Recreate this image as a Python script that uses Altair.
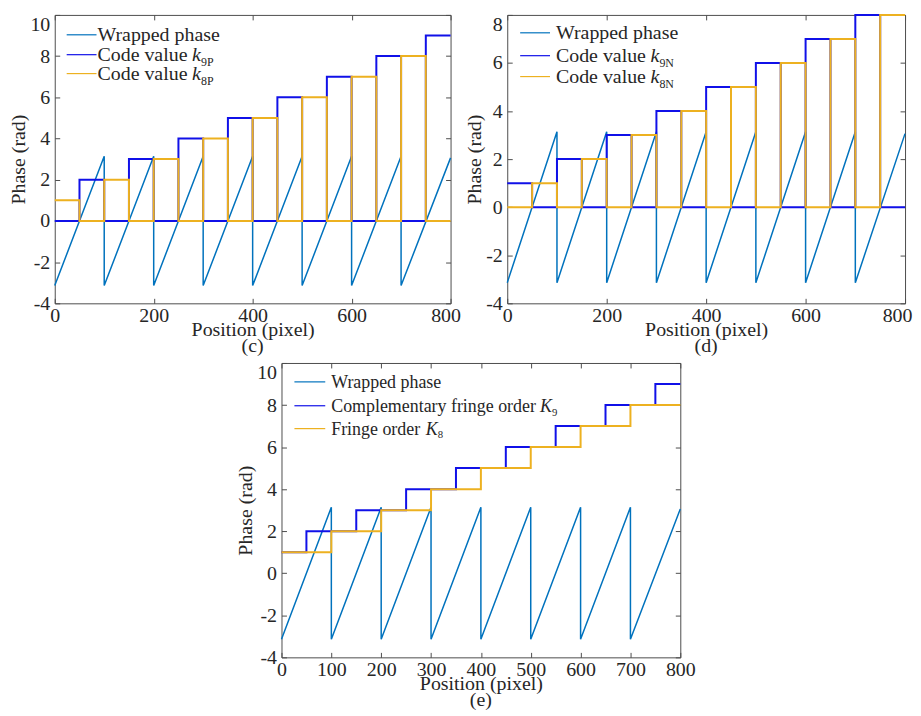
import altair as alt
import pandas as pd

FONT = "Liberation Serif"
TXT = "#262626"
FRAME = "#4d4d4d"
C_WRAP = "#0072BD"
C_BLUE = "#1010E8"
C_ORANGE = "#EDB120"
TICK = 5

# ---------------- data ----------------
# wrapped phase (sawtooth vertices)
wrap_x = [0, 100, 100, 200, 200, 300, 300, 400, 400, 500, 500, 600, 600, 700, 700, 800]
wrap_y = [-3.14, 3.14, -3.14, 3.14, -3.14, 3.14, -3.14, 3.14, -3.14, 3.14,
          -3.14, 3.14, -3.14, 3.14, -3.14, 3.06]

# step breakpoints (value holds from this x to the next)
seg_x = [0, 50, 100, 150, 200, 250, 300, 350, 400, 450, 500, 550, 600, 650, 700, 750, 800]

# panel (c)
k9P = [0, 2, 0, 3, 0, 4, 0, 5, 0, 6, 0, 7, 0, 8, 0, 9, 9]
k8P = [1, 0, 2, 0, 3, 0, 4, 0, 5, 0, 6, 0, 7, 0, 8, 0, 0]
# panel (d)
k9N = [1, 0, 2, 0, 3, 0, 4, 0, 5, 0, 6, 0, 7, 0, 8, 0, 0]
k8N = [0, 1, 0, 2, 0, 3, 0, 4, 0, 5, 0, 6, 0, 7, 0, 8, 8]
# panel (e)
K9 = [1, 2, 2, 3, 3, 4, 4, 5, 5, 6, 6, 7, 7, 8, 8, 9, 9]
K8 = [1, 1, 2, 2, 3, 3, 4, 4, 5, 5, 6, 6, 7, 7, 8, 8, 8]

ticks_c_y = [-4, -2, 0, 2, 4, 6, 8, 10]
ticks_d_y = [-4, -2, 0, 2, 4, 6, 8]
ticks_cd_x = [0, 200, 400, 600, 800]
ticks_e_x = [0, 100, 200, 300, 400, 500, 600, 700, 800]


def legend_layers(rows, fs, lx0, lx1, tx):
    layers = []
    for (ly, color, main, ital, sub, idx, sdx) in rows:
        layers.append(alt.Chart().mark_rule(color=color, strokeWidth=1.2).encode(
            x=alt.value(lx0), x2=alt.value(lx1), y=alt.value(ly)))
        base_y = ly + fs * 0.33
        layers.append(alt.Chart().mark_text(align="left", baseline="alphabetic", font=FONT,
                                            fontSize=fs, color=TXT, text=main).encode(
            x=alt.value(tx), y=alt.value(base_y)))
        if ital:
            layers.append(alt.Chart().mark_text(align="left", baseline="alphabetic", font=FONT,
                                                fontSize=fs, fontStyle="italic", color=TXT,
                                                text=ital).encode(
                x=alt.value(tx + idx), y=alt.value(base_y)))
            layers.append(alt.Chart().mark_text(align="left", baseline="alphabetic", font=FONT,
                                                fontSize=fs * 0.6, color=TXT, text=sub).encode(
                x=alt.value(tx + sdx), y=alt.value(base_y + fs * 0.22)))
    return layers


def panel(blue, orange, yticks, xticks, ymax, w, h, caption, x800_off, legend):
    wdf = pd.DataFrame({"x": wrap_x, "y": wrap_y, "i": list(range(len(wrap_x)))})
    sdf = pd.DataFrame({"x": seg_x, "blue": blue, "orange": orange})
    xs = alt.Scale(domain=[0, 800], nice=False, zero=False)
    ys = alt.Scale(domain=[-4, ymax], nice=False, zero=False)

    lb = {"condition": {"test": f"datum.value == {ymax}", "value": "top"}, "value": "middle"}
    xaxis = alt.Axis(orient="bottom", values=xticks, offset=-TICK, tickSize=TICK, domain=False,
                     grid=False, labelPadding=2, labelOverlap=False, labelFlush=False,
                     labelOffset={"condition": {"test": "datum.value == 800", "value": x800_off},
                                  "value": 0},
                     labelExpr="'' + datum.value", minExtent=0,
                     title="Position (pixel)", titlePadding=-6)
    yaxis = alt.Axis(orient="left", values=yticks, offset=-TICK, tickSize=TICK, domain=False,
                     grid=False, labelPadding=5, labelOverlap=False, labelFlush=False,
                     labelBaseline=lb, labelExpr="'' + datum.value", minExtent=0,
                     title="Phase (rad)", titlePadding=1)
    xtop = alt.Axis(orient="top", values=xticks, offset=-TICK, tickSize=TICK, domain=False,
                    grid=False, labels=False, title=None, minExtent=0, maxExtent=0)
    yright = alt.Axis(orient="right", values=yticks, offset=-TICK, tickSize=TICK, domain=False,
                      grid=False, labels=False, title=None, minExtent=0, maxExtent=0)

    wrap = alt.Chart(wdf).mark_line(color=C_WRAP, strokeWidth=1.5).encode(
        x=alt.X("x:Q", scale=xs, axis=xaxis),
        y=alt.Y("y:Q", scale=ys, axis=yaxis),
        order="i:Q")
    mirror = alt.Chart(wdf).mark_line(strokeOpacity=0).encode(
        x=alt.X("x:Q", scale=xs, axis=xtop),
        y=alt.Y("y:Q", scale=ys, axis=yright),
        order="i:Q")
    bl = alt.Chart(sdf).mark_line(color=C_BLUE, strokeWidth=2, interpolate="step-after").encode(
        x=alt.X("x:Q", scale=xs, axis=None),
        y=alt.Y("blue:Q", scale=ys, axis=None))
    ol = alt.Chart(sdf).mark_line(color=C_ORANGE, strokeWidth=2, interpolate="step-after").encode(
        x=alt.X("x:Q", scale=xs, axis=None),
        y=alt.Y("orange:Q", scale=ys, axis=None))

    layers = [wrap, mirror, bl, ol] + legend
    return alt.layer(*layers).resolve_axis(x="independent", y="independent").properties(
        width=w, height=h,
        title=alt.TitleParams(caption, orient="bottom", anchor="middle", frame="group",
                              font=FONT, fontSize=20, fontWeight="normal", color=TXT, offset=-3))


leg_c = legend_layers([
    (20, C_WRAP, "Wrapped phase", None, None, 0, 0),
    (40, C_BLUE, "Code value ", "k", "9P", 95, 104),
    (59, C_ORANGE, "Code value ", "k", "8P", 95, 104),
], 20, 12, 42, 43)
leg_d = legend_layers([
    (18, C_WRAP, "Wrapped phase", None, None, 0, 0),
    (41, C_BLUE, "Code value ", "k", "9N", 95, 104),
    (62, C_ORANGE, "Code value ", "k", "8N", 95, 104),
], 20, 13, 43, 49)
leg_e = legend_layers([
    (19, C_WRAP, "Wrapped phase", None, None, 0, 0),
    (43, C_BLUE, "Complementary fringe order ", "K", "9", 210, 222),
    (66, C_ORANGE, "Fringe order ", "K", "8", 95, 107),
], 18, 13, 44, 50)

pc = panel(k9P, k8P, ticks_c_y, ticks_cd_x, 10, 398, 290, "(c)", -5, leg_c)
pd_ = panel(k9N, k8N, ticks_d_y, ticks_cd_x, 8, 400, 290, "(d)", -8, leg_d)
pe = panel(K9, K8, ticks_c_y, ticks_e_x, 10, 401, 296, "(e)", 0, leg_e)

spacer = alt.Chart(pd.DataFrame({"a": [0]})).mark_point(opacity=0).encode(
    x=alt.value(0), y=alt.value(0)).properties(
    width=208, height=10, view=alt.ViewBackground(stroke="transparent"))

top = alt.hconcat(pc, pd_, spacing=57, bounds="flush")
bottom = alt.hconcat(spacer, pe, spacing=20, bounds="flush")

chart = alt.vconcat(top, bottom, spacing=2).properties(padding=0).configure_view(
    stroke=FRAME, strokeWidth=1
).configure_axis(
    labelFont=FONT, labelFontSize=20, labelColor=TXT,
    titleFont=FONT, titleFontSize=20, titleFontWeight="normal", titleColor=TXT,
    tickColor=FRAME, tickWidth=1
)

chart.save("out.html", embed_options={"renderer": "svg", "actions": False})
